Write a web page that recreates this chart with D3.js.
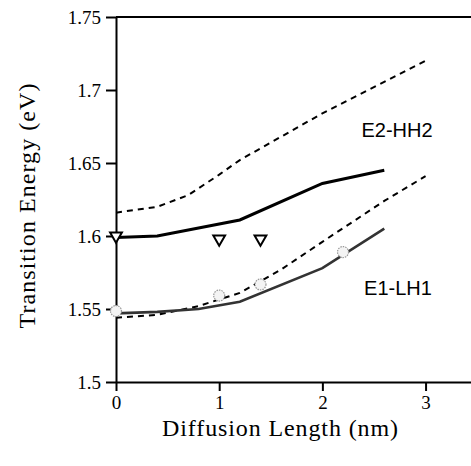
<!DOCTYPE html>
<html><head><meta charset="utf-8">
<script src="https://cdn.jsdelivr.net/npm/d3@7"></script>
<style>body{margin:0;background:#fff}svg{display:block}
.serif{font-family:"Liberation Serif","Times New Roman",serif}
.sans{font-family:"Liberation Sans",Arial,sans-serif}
</style>
</head><body>
<svg id="c" width="471" height="466"></svg>
<script>
// ---- data ----
const xTicks = [0, 1, 2, 3];
const yTicks = [1.5, 1.55, 1.6, 1.65, 1.7, 1.75];
const yTickLabels = ["1.5", "1.55", "1.6", "1.65", "1.7", "1.75"];
const e2SolidX = [0, 0.4, 1.2, 2.0, 2.6];
const e2SolidY = [1.599, 1.600, 1.611, 1.636, 1.645];
const e2DashX = [0, 0.4, 0.7, 1.0, 1.2, 2.0, 3.0];
const e2DashY = [1.616, 1.620, 1.628, 1.642, 1.652, 1.684, 1.720];
const e1SolidX = [0, 0.4, 0.8, 1.2, 2.0, 2.6];
const e1SolidY = [1.547, 1.548, 1.550, 1.555, 1.578, 1.605];
const e1DashX = [0, 0.4, 0.8, 1.2, 1.6, 2.0, 2.6, 3.0];
const e1DashY = [1.544, 1.546, 1.552, 1.561, 1.577, 1.596, 1.624, 1.641];
const triX = [0, 1.0, 1.4];
const triY = [1.600, 1.598, 1.598];
const circX = [0, 1.0, 1.4, 2.2];
const circY = [1.5486, 1.5592, 1.5668, 1.589];
const labels = ["E2-HH2", "E1-LH1"];

// ---- chart ----
const svg = d3.select("#c");
const x = d3.scaleLinear().domain([0, 3.45]).range([116, 472]);
const y = d3.scaleLinear().domain([1.5, 1.75]).range([382, 17]);

// top border
svg.append("line").attr("x1", 116).attr("x2", 471).attr("y1", y(1.75)).attr("y2", y(1.75))
  .attr("stroke", "#000").attr("stroke-width", 2);

const xAxis = svg.append("g").attr("transform", `translate(0,${y(1.5)})`)
  .call(d3.axisBottom(x).tickValues(xTicks).tickFormat(d3.format("d")).tickSize(9).tickSizeOuter(0));
const yAxis = svg.append("g").attr("transform", `translate(${x(0)},0)`)
  .call(d3.axisLeft(y).tickValues(yTicks).tickFormat((d, i) => yTickLabels[i]).tickSize(10).tickSizeOuter(0));

[xAxis, yAxis].forEach(g => {
  g.attr("font-family", "Liberation Serif").attr("font-size", 19);
  g.select(".domain").attr("stroke", "#000").attr("stroke-width", 2);
  g.selectAll(".tick line").attr("stroke", "#000").attr("stroke-width", 2);
  g.selectAll(".tick text").attr("fill", "#000").attr("class", "serif").style("font-size", "19px");
});
xAxis.selectAll(".tick text").attr("y", 14);
yAxis.selectAll(".tick text").attr("x", -15);

const line = d3.line().x(d => x(d[0])).y(d => y(d[1]));
const zip = (a, b) => a.map((v, i) => [v, b[i]]);

svg.append("path").datum(zip(e2DashX, e2DashY)).attr("d", line)
  .attr("fill", "none").attr("stroke", "#000").attr("stroke-width", 2).attr("stroke-dasharray", "6,5");
svg.append("path").datum(zip(e1DashX, e1DashY)).attr("d", line)
  .attr("fill", "none").attr("stroke", "#000").attr("stroke-width", 2).attr("stroke-dasharray", "6,5");
svg.append("path").datum(zip(e2SolidX, e2SolidY)).attr("d", line)
  .attr("fill", "none").attr("stroke", "#000").attr("stroke-width", 3);
svg.append("path").datum(zip(e1SolidX, e1SolidY)).attr("d", line)
  .attr("fill", "none").attr("stroke", "#333").attr("stroke-width", 2.6);

// circles
svg.append("g").selectAll("circle").data(zip(circX, circY)).join("circle")
  .attr("cx", d => x(d[0])).attr("cy", d => y(d[1])).attr("r", 5.5)
  .attr("fill", "#f4f4f4").attr("stroke", "#999").attr("stroke-width", 1.2).attr("stroke-dasharray", "1.5,1");

// triangles (pointing down)
const tri = d3.symbol().type(d3.symbolTriangle).size(60);
svg.append("g").selectAll("path").data(zip(triX, triY)).join("path")
  .attr("d", tri)
  .attr("transform", d => `translate(${x(d[0])},${y(d[1])}) rotate(180)`)
  .attr("fill", "#fff").attr("stroke", "#000").attr("stroke-width", 2);

// labels
svg.append("text").attr("class", "sans").attr("x", 397).attr("y", 137).attr("text-anchor", "middle")
  .style("font-size", "20px").text(labels[0]);
svg.append("text").attr("class", "sans").attr("x", 398).attr("y", 295).attr("text-anchor", "middle")
  .style("font-size", "20px").text(labels[1]);

// axis titles
svg.append("text").attr("class", "serif").attr("x", 280).attr("y", 436).attr("text-anchor", "middle")
  .attr("textLength", 236).attr("lengthAdjust", "spacing")
  .style("font-size", "24px")
  .text("Diffusion Length (nm)");
svg.append("text").attr("class", "serif").attr("transform", "translate(35,206) rotate(-90)").attr("text-anchor", "middle")
  .attr("textLength", 245).attr("lengthAdjust", "spacing")
  .style("font-size", "24px")
  .text("Transition Energy (eV)");
</script>
</body></html>
